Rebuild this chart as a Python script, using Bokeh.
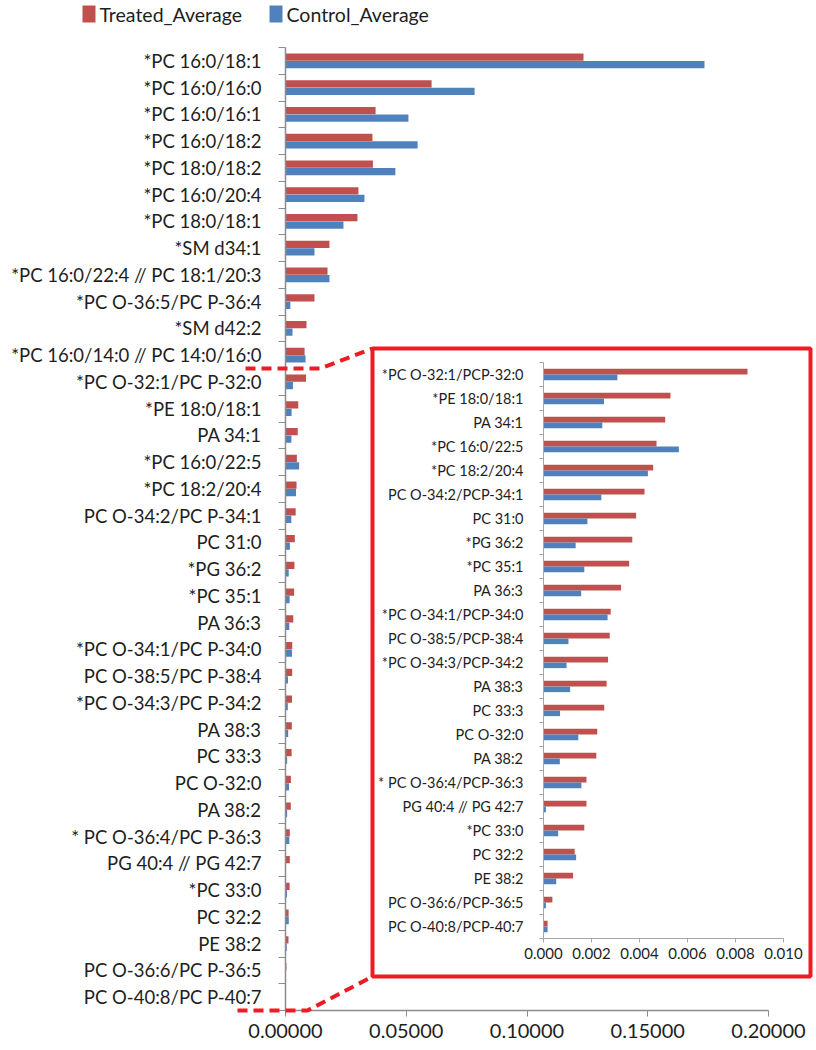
import numpy as np
from bokeh.plotting import figure
from bokeh.models import Range1d, FixedTicker, NumeralTickFormatter, ColumnDataSource
from bokeh.core.properties import value
from bokeh.embed import file_html
from bokeh.resources import INLINE

# ---------------- data ----------------
categories = [
    "*PC 16:0/18:1", "*PC 16:0/16:0", "*PC 16:0/16:1", "*PC 16:0/18:2",
    "*PC 18:0/18:2", "*PC 16:0/20:4", "*PC 18:0/18:1", "*SM d34:1",
    "*PC 16:0/22:4 // PC 18:1/20:3", "*PC O-36:5/PC P-36:4", "*SM d42:2",
    "*PC 16:0/14:0 // PC 14:0/16:0", "*PC O-32:1/PC P-32:0", "*PE 18:0/18:1",
    "PA 34:1", "*PC 16:0/22:5", "*PC 18:2/20:4", "PC O-34:2/PC P-34:1",
    "PC 31:0", "*PG 36:2", "*PC 35:1", "PA 36:3", "*PC O-34:1/PC P-34:0",
    "PC O-38:5/PC P-38:4", "*PC O-34:3/PC P-34:2", "PA 38:3", "PC 33:3",
    "PC O-32:0", "PA 38:2", "* PC O-36:4/PC P-36:3", "PG 40:4 // PG 42:7",
    "*PC 33:0", "PC 32:2", "PE 38:2", "PC O-36:6/PC P-36:5",
    "PC O-40:8/PC P-40:7",
]
series_names = ["Treated_Average", "Control_Average"]
treated_average = [
    0.1234, 0.0605, 0.0373, 0.0360, 0.0362, 0.0302, 0.0298, 0.0182,
    0.0174, 0.0120, 0.0087, 0.0079, 0.0085, 0.00529, 0.00507, 0.00471,
    0.00457, 0.00421, 0.00386, 0.00370, 0.00357, 0.00323, 0.00280, 0.00276,
    0.00269, 0.00263, 0.00253, 0.00224, 0.00220, 0.00179, 0.00179, 0.00170,
    0.00130, 0.00123, 0.00037, 0.00017,
]
control_average = [
    0.1735, 0.0783, 0.0509, 0.0547, 0.0455, 0.0327, 0.0240, 0.0120,
    0.0182, 0.0020, 0.0029, 0.0083, 0.00308, 0.00252, 0.00245, 0.00564,
    0.00435, 0.00241, 0.00183, 0.00134, 0.00170, 0.00157, 0.00267, 0.00104,
    0.00096, 0.00111, 0.00069, 0.00145, 0.00068, 0.00158, 0.00010, 0.00061,
    0.00136, 0.00053, 0.00010, 0.00017,
]
inset_labels = [
    "*PC O-32:1/PCP-32:0", "*PE 18:0/18:1", "PA 34:1", "*PC 16:0/22:5",
    "*PC 18:2/20:4", "PC O-34:2/PCP-34:1", "PC 31:0", "*PG 36:2", "*PC 35:1",
    "PA 36:3", "*PC O-34:1/PCP-34:0", "PC O-38:5/PCP-38:4",
    "*PC O-34:3/PCP-34:2", "PA 38:3", "PC 33:3", "PC O-32:0", "PA 38:2",
    "* PC O-36:4/PCP-36:3", "PG 40:4 // PG 42:7", "*PC 33:0", "PC 32:2",
    "PE 38:2", "PC O-36:6/PCP-36:5", "PC O-40:8/PCP-40:7",
]
main_ticks = [0.0, 0.05, 0.10, 0.15, 0.20]
inset_ticks = [0.0, 0.002, 0.004, 0.006, 0.008, 0.010]
inset_tick_labels = ["0.000", "0.002", "0.004", "0.006", "0.008", "0.010"]
inset_start = 12  # first category shown in the zoomed inset

# ---------------- style / layout ----------------
RED = "#C0504D"
BLUE = "#4F81BD"
BOX_RED = "#EC1C24"
AXIS_GRAY = "#8C8C8C"
TEXT = "#1E1E1E"
FONT = "Lato"

W, H = 814, 1048
BL, BB = 285, 38
FW, FH = W - BL, H - BB
TOP_GAP = 47
n = len(categories)
row_px = (FH - TOP_GAP) / n
px_per_unit = 483 / 0.2

p = figure(width=W, height=H, output_backend="svg", toolbar_location=None,
           x_range=Range1d(0, FW / px_per_unit),
           y_range=Range1d(0.5, n + 0.5 + TOP_GAP / row_px),
           min_border_left=BL, min_border_right=0, min_border_top=0,
           min_border_bottom=BB)
p.outline_line_color = None
p.xgrid.grid_line_color = None
p.ygrid.grid_line_color = None
p.background_fill_color = "white"

ycent = [float(v) for v in np.arange(n, 0, -1)]
src = ColumnDataSource(dict(
    yt=[c + 0.14 for c in ycent], yc=[c - 0.14 for c in ycent],
    t=treated_average, c=control_average))
p.hbar(y="yt", left=0, right="t", height=0.27, fill_color=RED,
       line_color=None, source=src)
p.hbar(y="yc", left=0, right="c", height=0.27, fill_color=BLUE,
       line_color=None, source=src)

yax = p.yaxis[0]
yax.ticker = FixedTicker(ticks=ycent,
                         minor_ticks=[float(v) for v in np.arange(0.5, n + 1, 1.0)])
yax.major_label_overrides = {c: lab for c, lab in zip(ycent, categories)}
yax.major_tick_out = 0
yax.major_tick_in = 0
yax.major_tick_line_color = None
yax.minor_tick_out = 7
yax.minor_tick_in = 0
yax.minor_tick_line_color = AXIS_GRAY
yax.axis_line_color = AXIS_GRAY
yax.axis_line_width = 1.5
yax.bounds = (0.5, n + 0.5)
yax.major_label_standoff = 17
yax.major_label_text_font = FONT
yax.major_label_text_font_size = "18.5px"
yax.major_label_text_color = TEXT

xax = p.xaxis[0]
xax.ticker = FixedTicker(ticks=main_ticks)
xax.formatter = NumeralTickFormatter(format="0.00000")
xax.bounds = (0, 0.2)
xax.major_tick_out = 6
xax.major_tick_in = 0
xax.minor_tick_line_color = None
xax.major_tick_line_color = AXIS_GRAY
xax.axis_line_color = AXIS_GRAY
xax.axis_line_width = 1.5
xax.major_label_standoff = 7
xax.major_label_text_font = FONT
xax.major_label_text_font_size = "20px"
xax.major_label_text_color = TEXT

# ---------------- inset ----------------
m = n - inset_start
inset_px_per_unit = 24000
inset_x0 = 258          # frame px of inset zero
inset_axis_y = 938      # frame px of inset x-axis
inset_row = 24
p.extra_x_ranges = {
    "ix": Range1d(-inset_x0 / inset_px_per_unit, (FW - inset_x0) / inset_px_per_unit),
    "px": Range1d(0, FW),
}
p.extra_y_ranges = {
    "iy": Range1d(0.5 - (FH - inset_axis_y) / inset_row,
                  m + 0.5 + (inset_axis_y - m * inset_row) / inset_row),
    "py": Range1d(FH, 0),
}

box_l, box_r, box_t, box_b = 87, 525, 348, 976
p.quad(left=[box_l], right=[box_r], top=[box_t], bottom=[box_b],
       x_range_name="px", y_range_name="py", fill_color="white",
       line_color=BOX_RED, line_width=4)

icent = [float(v) for v in np.arange(m, 0, -1)]
isrc = ColumnDataSource(dict(
    yt=[c + 0.12 for c in icent], yc=[c - 0.12 for c in icent],
    t=treated_average[inset_start:], c=control_average[inset_start:],
    lab=inset_labels, x0=[0.0] * m, yl=icent))
p.hbar(y="yt", left=0, right="t", height=0.23, fill_color=RED, line_color=None,
       source=isrc, x_range_name="ix", y_range_name="iy")
p.hbar(y="yc", left=0, right="c", height=0.23, fill_color=BLUE, line_color=None,
       source=isrc, x_range_name="ix", y_range_name="iy")

p.segment(x0=[0, 0], y0=[0.5, 0.5], x1=[0, inset_ticks[-1]], y1=[m + 0.5, 0.5],
          line_color="#A6A6A6", line_width=1, x_range_name="ix", y_range_name="iy")
p.ray(x=[0.0] * (m + 1), y=[float(v) for v in np.arange(0.5, m + 1, 1.0)],
      length=4, angle=np.pi, length_units="screen", line_color="#A6A6A6",
      x_range_name="ix", y_range_name="iy")
p.ray(x=inset_ticks, y=[0.5] * len(inset_ticks), length=4, angle=-np.pi / 2,
      length_units="screen", line_color="#A6A6A6",
      x_range_name="ix", y_range_name="iy")
p.text(x=inset_ticks, y=[0.5] * len(inset_ticks), text=inset_tick_labels,
       y_offset=9, text_align="center", text_baseline="top",
       text_font=value(FONT), text_font_size="15px", text_color=TEXT,
       x_range_name="ix", y_range_name="iy")
p.text(x="x0", y="yl", text="lab", source=isrc, x_offset=-20,
       text_align="right", text_baseline="middle", text_font=value(FONT),
       text_font_size="14.5px", text_color=TEXT,
       x_range_name="ix", y_range_name="iy")

# dashed connector lines
top_y = TOP_GAP + inset_start * row_px
p.line(x=[-40, 35, box_l], y=[top_y, top_y, box_t], line_color=BOX_RED,
       line_width=4, line_dash="10 6", x_range_name="px", y_range_name="py",
       level="overlay")
p.line(x=[-48, 22, box_l], y=[FH, FH, box_b], line_color=BOX_RED,
       line_width=4, line_dash="10 6", x_range_name="px", y_range_name="py",
       level="overlay")

# ---------------- legend (drawn above the frame, unclipped) ----------------
leg_x = [-203, -16]     # frame px of each legend swatch's left edge
leg_y = 14              # frame px of legend centre line
p.quad(left=leg_x, right=[x + 13 for x in leg_x], top=[leg_y - 9] * 2,
       bottom=[leg_y + 8] * 2, fill_color=[RED, BLUE], line_color=None,
       x_range_name="px", y_range_name="py", level="overlay")
p.text(x=[x + 17 for x in leg_x], y=[leg_y] * 2, text=series_names,
       text_align="left", text_baseline="middle", text_font=value(FONT),
       text_font_size="19.5px", text_color=TEXT,
       x_range_name="px", y_range_name="py", level="overlay")

open("out.html", "w").write(file_html(p, INLINE))
